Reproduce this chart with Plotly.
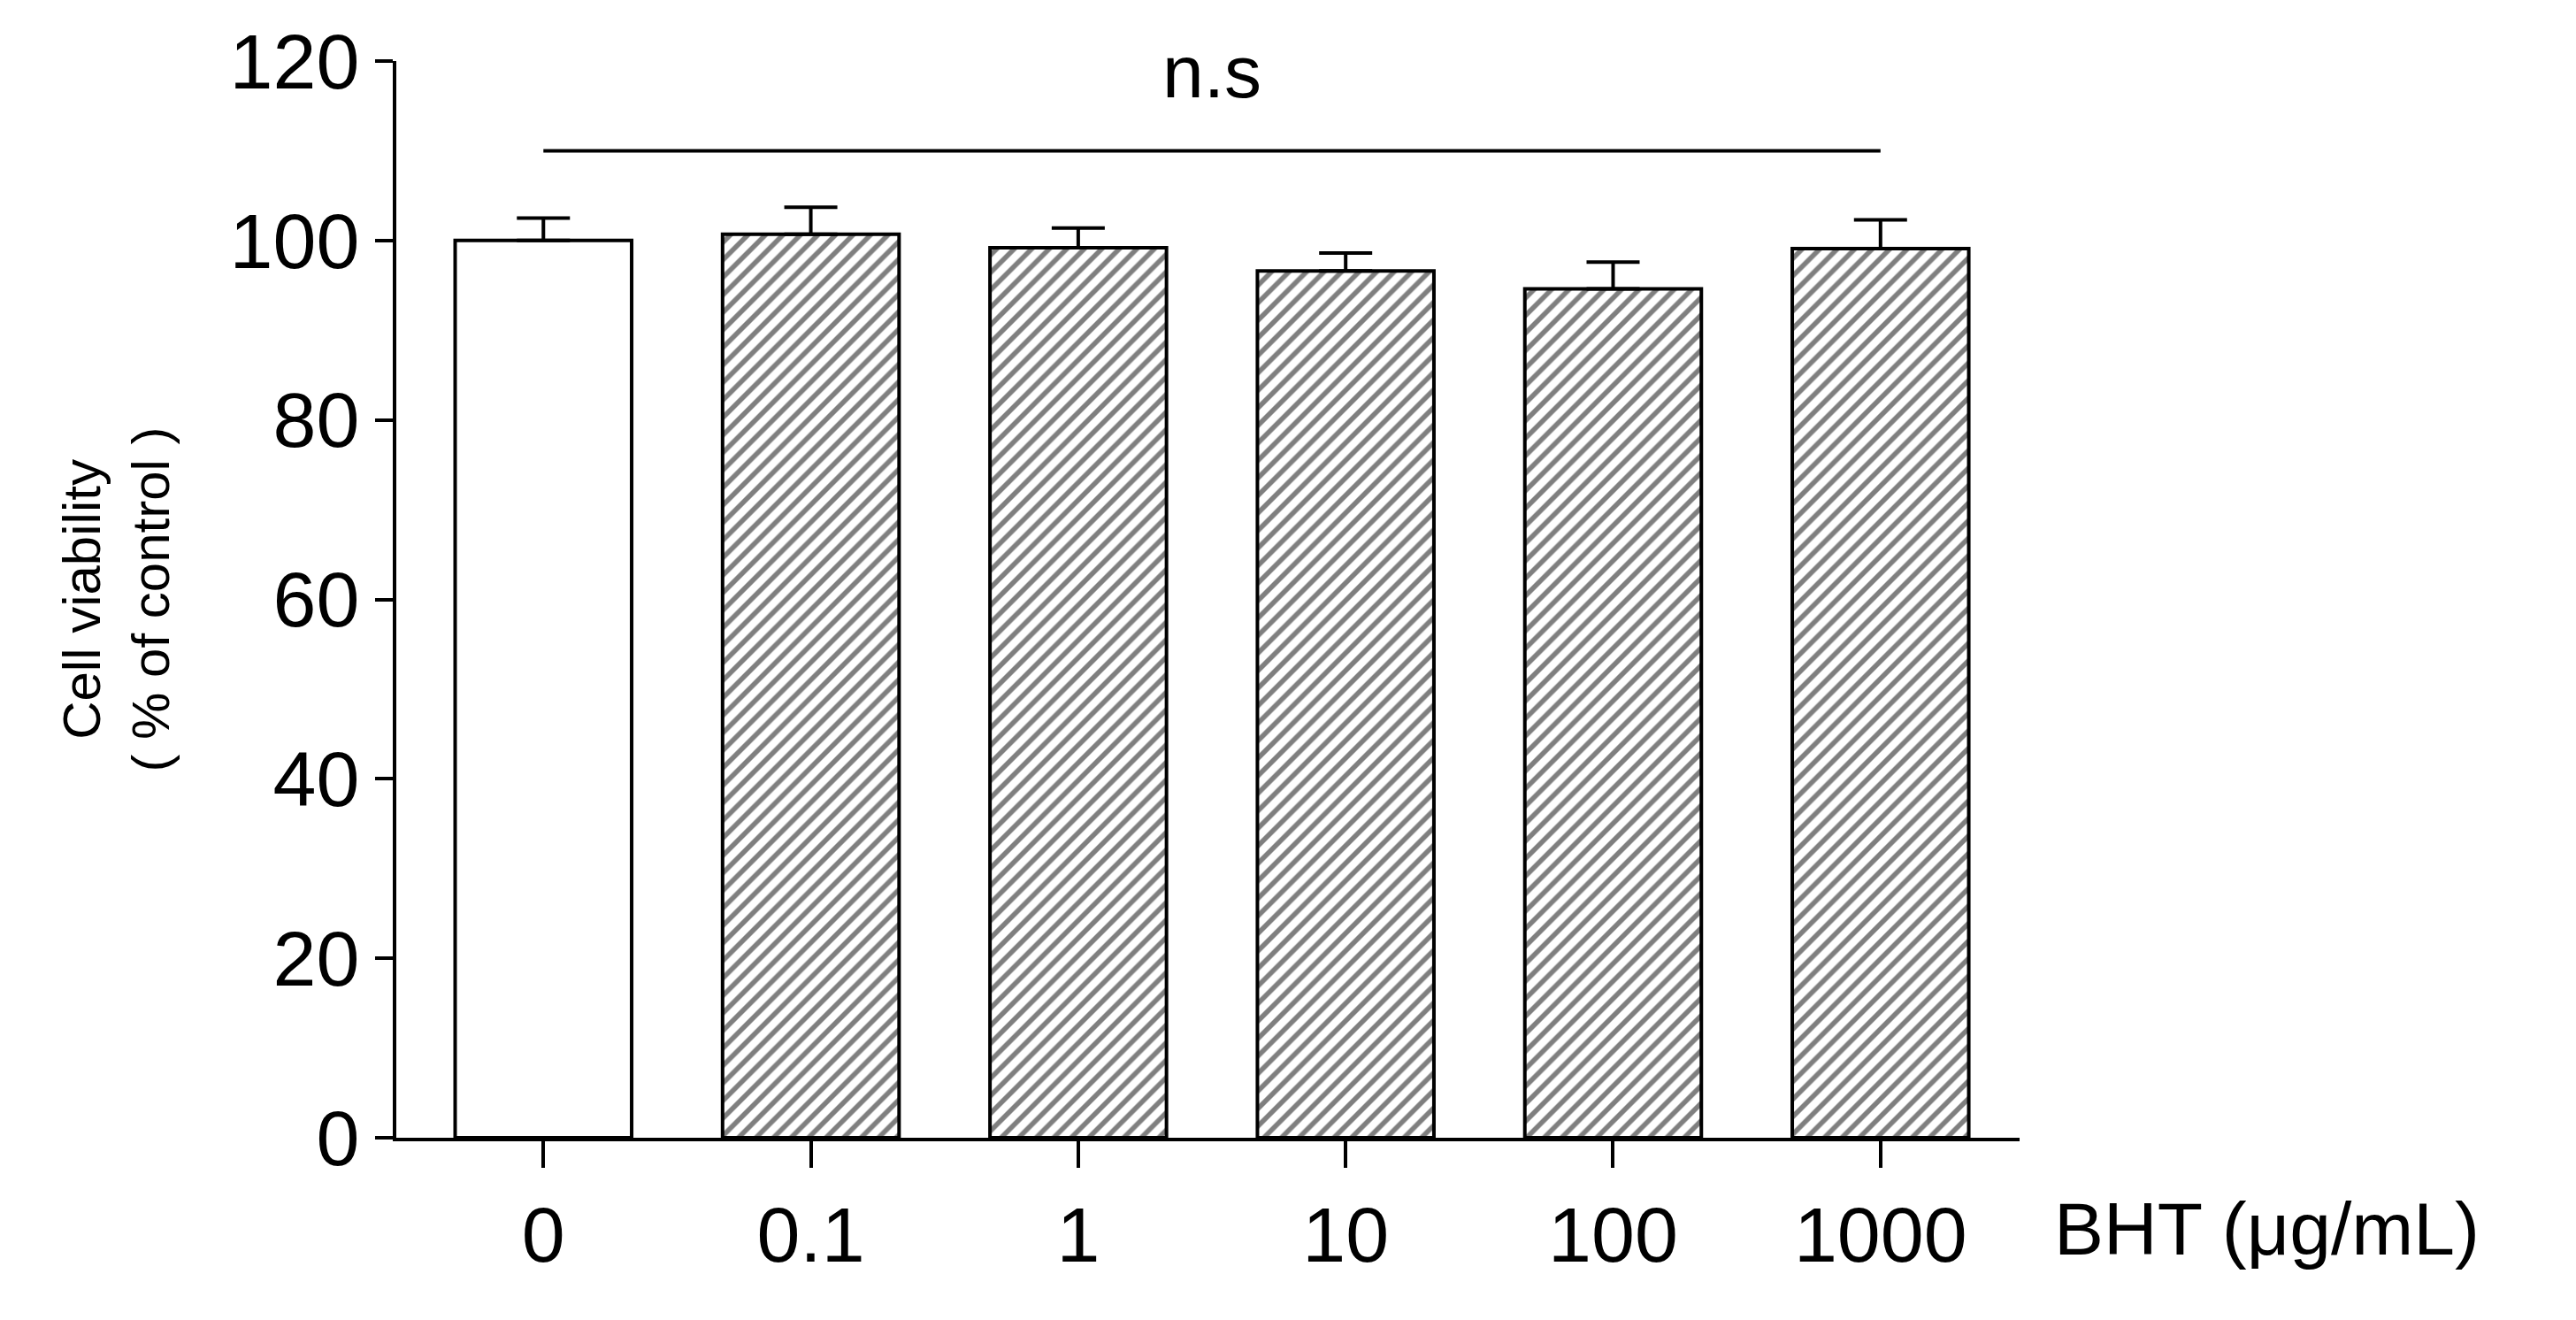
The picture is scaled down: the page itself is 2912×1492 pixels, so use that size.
import plotly.graph_objects as go

doses = ["0", "0.1", "1", "10", "100", "1000"]
viability = [100.0, 100.7, 99.2, 96.6, 94.6, 99.1]
errors = [2.5, 3.0, 2.2, 2.0, 3.0, 3.2]
patterns = ["", "/", "/", "/", "/", "/"]

x = list(range(len(doses)))

fig = go.Figure()
fig.add_trace(go.Bar(
    x=x, y=viability, width=0.66,
    marker=dict(color="white", line=dict(color="black", width=4),
                pattern=dict(shape=patterns, fgcolor="black", bgcolor="white",
                             size=14, solidity=0.4)),
    error_y=dict(type="data", array=errors, symmetric=False, arrayminus=[0] * 6,
                 color="black", thickness=4, width=30),
))

# significance bar
fig.add_shape(type="line", x0=0, x1=5, y0=110, y1=110, line=dict(color="black", width=4))
fig.add_annotation(x=2.5, xref="x", yref="paper", y=1.03, text="n.s", showarrow=False,
                   yanchor="top", font=dict(size=84, color="black"))
fig.add_annotation(xref="paper", yref="paper", x=1.02, y=-0.085, text="BHT (μg/mL)",
                   showarrow=False, xanchor="left", yanchor="middle",
                   font=dict(size=84, color="black"))

fig.update_layout(
    width=2912, height=1492, plot_bgcolor="white", paper_bgcolor="white",
    margin=dict(l=440, r=2912 - 2275, t=61, b=1492 - 1278),
    font=dict(family="Liberation Sans, Arial", color="black"),
    showlegend=False,
)
fig.update_xaxes(range=[-0.55, 5.52], tickvals=x, ticktext=doses, showline=True,
                 linecolor="black", linewidth=4, ticks="outside", ticklen=30,
                 tickwidth=4, tickcolor="black", tickfont=dict(size=88),
                 showgrid=False)
fig.update_yaxes(range=[0, 120], tickvals=[0, 20, 40, 60, 80, 100, 120], showline=True,
                 linecolor="black", linewidth=4, ticks="outside", ticklen=20,
                 tickwidth=4, tickcolor="black", tickfont=dict(size=88),
                 showgrid=False, zeroline=False,
                 title=dict(text="Cell viability<br>( % of control )",
                            font=dict(size=60), standoff=50))

fig.write_html("out.html")
